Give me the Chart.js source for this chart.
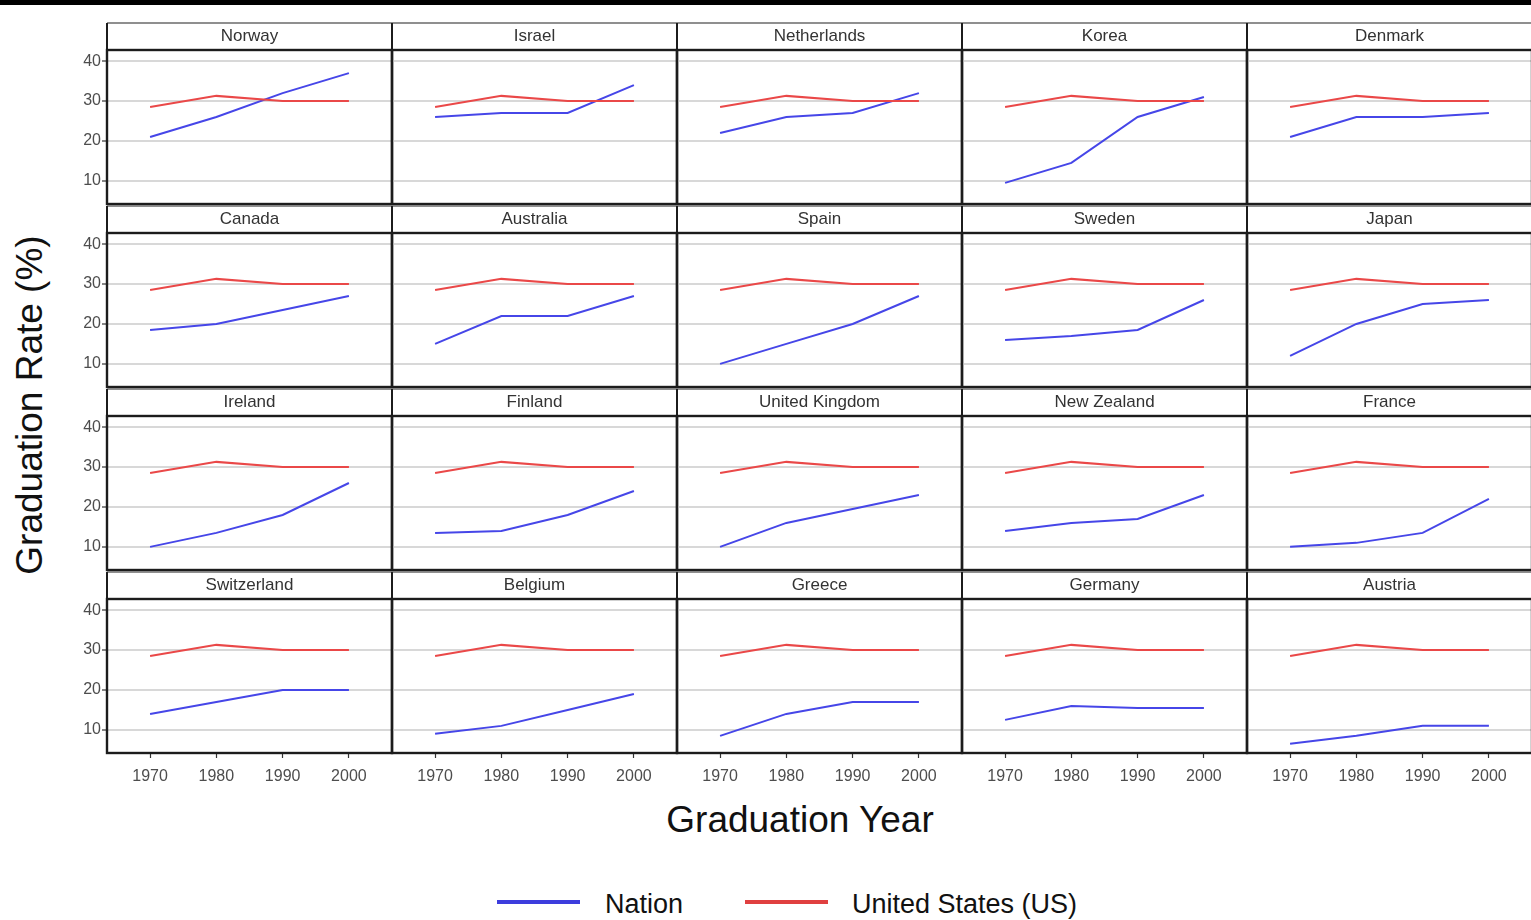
<!DOCTYPE html>
<html>
<head>
<meta charset="utf-8">
<script src="https://cdn.jsdelivr.net/npm/chart.js@4.4.1/dist/chart.umd.min.js"></script>
<style>
  html, body { margin: 0; padding: 0; background: #fff; width: 1531px; height: 920px; overflow: hidden;
    font-family: "Liberation Sans", Arial, Helvetica, sans-serif; }
  #topband { position: absolute; left: 0; top: 0; width: 1531px; height: 5px; background: #000; }
  canvas { position: absolute; }
  .ytitle { position: absolute; left: 30px; top: 405px; transform: translate(-50%, -50%) rotate(-90deg);
    font-size: 37px; color: #111; white-space: nowrap; }
  .xtitle { position: absolute; left: 800px; top: 820px; transform: translate(-50%, -50%);
    font-size: 37px; color: #111; white-space: nowrap; }
  .legend { position: absolute; top: 904px; transform: translateY(-50%); font-size: 27px; color: #111; white-space: nowrap; }
  .swatch { position: absolute; top: 900px; height: 4px; width: 83px; }
</style>
</head>
<body>
<div id="topband"></div>
<div class="ytitle">Graduation Rate (%)</div>
<div class="xtitle">Graduation Year</div>
<div class="swatch" style="left:497px;background:#3d3ddd;"></div>
<div class="legend" style="left:605px;">Nation</div>
<div class="swatch" style="left:745px;background:#e04040;"></div>
<div class="legend" style="left:852px;">United States (US)</div>

<script>
// Graduation years and axis ticks
const years = [1970, 1980, 1990, 2000];
const yTicks = [10, 20, 30, 40];

// United States graduation rate (%), repeated in every panel
const usRate = [28.5, 31.3, 30, 30];

// Graduation rate (%) of each nation
const norway      = [21, 26, 32, 37];
const israel      = [26, 27, 27, 34];
const netherlands = [22, 26, 27, 32];
const korea       = [9.5, 14.5, 26, 31];
const denmark     = [21, 26, 26, 27];
const canada      = [18.5, 20, 23.5, 27];
const australia   = [15, 22, 22, 27];
const spain       = [10, 15, 20, 27];
const sweden      = [16, 17, 18.5, 26];
const japan       = [12, 20, 25, 26];
const ireland     = [10, 13.5, 18, 26];
const finland     = [13.5, 14, 18, 24];
const unitedKingdom = [10, 16, 19.5, 23];
const newZealand  = [14, 16, 17, 23];
const france      = [10, 11, 13.5, 22];
const switzerland = [14, 17, 20, 20];
const belgium     = [9, 11, 15, 19];
const greece      = [8.5, 14, 17, 17];
const germany     = [12.5, 16, 15.5, 15.5];
const austria     = [6.5, 8.5, 11, 11];

const countryNames = ['Norway', 'Israel', 'Netherlands', 'Korea', 'Denmark',
  'Canada', 'Australia', 'Spain', 'Sweden', 'Japan',
  'Ireland', 'Finland', 'United Kingdom', 'New Zealand', 'France',
  'Switzerland', 'Belgium', 'Greece', 'Germany', 'Austria'];
const countrySeries = [norway, israel, netherlands, korea, denmark,
  canada, australia, spain, sweden, japan,
  ireland, finland, unitedKingdom, newZealand, france,
  switzerland, belgium, greece, germany, austria];

// Facet grid geometry
const COL_X = [107, 392, 677, 962, 1247];
const COL_W = 285;
const ROW_Y = [23, 206, 389, 572];
const STRIP_H = 27;
const PANEL_H = 154;
const Y_AXIS_W = 47;
const X_AXIS_H = 40;
const M = 3;

const NATION_COLOR = '#4646e8';
const US_COLOR = '#ea4848';

// Draws the facet strip with its label, and the panel frame
const facetFrame = {
  id: 'facetFrame',
  afterDraw(chart, args, opts) {
    const { ctx, chartArea: a } = chart;
    ctx.save();
    const sTop = a.top - STRIP_H;
    ctx.fillStyle = '#ffffff';
    ctx.fillRect(a.left, sTop, a.width, STRIP_H);
    // strip top edge, lighter
    ctx.strokeStyle = '#6a6a6a';
    ctx.lineWidth = 1.6;
    ctx.beginPath(); ctx.moveTo(a.left, sTop); ctx.lineTo(a.right, sTop); ctx.stroke();
    // strip sides and panel frame
    ctx.strokeStyle = '#1c1c1c';
    ctx.lineWidth = 2;
    ctx.beginPath();
    ctx.moveTo(a.left, sTop); ctx.lineTo(a.left, a.top);
    ctx.moveTo(a.right, sTop); ctx.lineTo(a.right, a.top);
    ctx.stroke();
    ctx.lineWidth = 2.4;
    ctx.strokeRect(a.left, a.top, a.width, a.height);
    ctx.fillStyle = '#333333';
    ctx.font = '17px "Liberation Sans", Arial, sans-serif';
    ctx.textAlign = 'center';
    ctx.textBaseline = 'middle';
    ctx.fillText(opts.label, (a.left + a.right) / 2, sTop + STRIP_H / 2);
    ctx.restore();
  }
};

countryNames.forEach((name, i) => {
  const r = Math.floor(i / 5), c = i % 5;
  const firstCol = c === 0, lastRow = r === 3;

  const left = firstCol ? COL_X[0] - Y_AXIS_W : COL_X[c] - M;
  const right = COL_X[c] + COL_W + M;
  const top = ROW_Y[r] - M;
  const panelBottom = ROW_Y[r] + STRIP_H + PANEL_H;
  const bottom = lastRow ? panelBottom + X_AXIS_H : panelBottom + M;

  const cv = document.createElement('canvas');
  cv.width = right - left;
  cv.height = bottom - top;
  cv.style.left = left + 'px';
  cv.style.top = top + 'px';
  cv.style.width = cv.width + 'px';
  cv.style.height = cv.height + 'px';
  document.body.appendChild(cv);

  new Chart(cv, {
    type: 'line',
    data: {
      datasets: [
        { label: 'United States (US)', data: years.map((x, k) => ({ x, y: usRate[k] })),
          borderColor: US_COLOR, borderWidth: 2, pointRadius: 0, tension: 0 },
        { label: 'Nation', data: years.map((x, k) => ({ x, y: countrySeries[i][k] })),
          borderColor: NATION_COLOR, borderWidth: 2, pointRadius: 0, tension: 0 }
      ]
    },
    options: {
      responsive: false,
      animation: false,
      events: [],
      layout: { padding: { left: firstCol ? 0 : M, right: M, top: M + STRIP_H, bottom: lastRow ? 0 : M } },
      plugins: {
        legend: { display: false },
        tooltip: { enabled: false },
        facetFrame: { label: name }
      },
      scales: {
        x: {
          type: 'linear', min: 1963.5, max: 2006.5,
          afterBuildTicks: s => { s.ticks = years.map(v => ({ value: v })); },
          afterFit: s => {
            s.height = lastRow ? X_AXIS_H : 0;
            s.paddingLeft = 0; s.paddingRight = 0; s.paddingTop = 0; s.paddingBottom = 0;
          },
          border: { display: false },
          grid: { display: lastRow, drawOnChartArea: false, drawTicks: true, tickLength: 5,
                  tickColor: '#333', tickWidth: 1.2 },
          ticks: { display: lastRow, color: '#4d4d4d', padding: 9, maxRotation: 0, autoSkip: false,
                   font: { size: 16, family: '"Liberation Sans", Arial, sans-serif' },
                   callback: v => String(v) }
        },
        y: {
          min: 4.2, max: 42.8,
          afterBuildTicks: s => { s.ticks = yTicks.map(v => ({ value: v })); },
          afterFit: s => {
            s.width = firstCol ? Y_AXIS_W : 0;
            s.paddingLeft = 0; s.paddingRight = 0; s.paddingTop = 0; s.paddingBottom = 0;
          },
          border: { display: false },
          grid: { color: '#d8d8d8', lineWidth: 2, drawTicks: firstCol, tickLength: 5,
                  tickColor: '#333', tickWidth: 1.2 },
          ticks: { display: firstCol, color: '#4d4d4d', padding: 1,
                   font: { size: 16, family: '"Liberation Sans", Arial, sans-serif' } }
        }
      }
    },
    plugins: [facetFrame]
  });
});
</script>
</body>
</html>
